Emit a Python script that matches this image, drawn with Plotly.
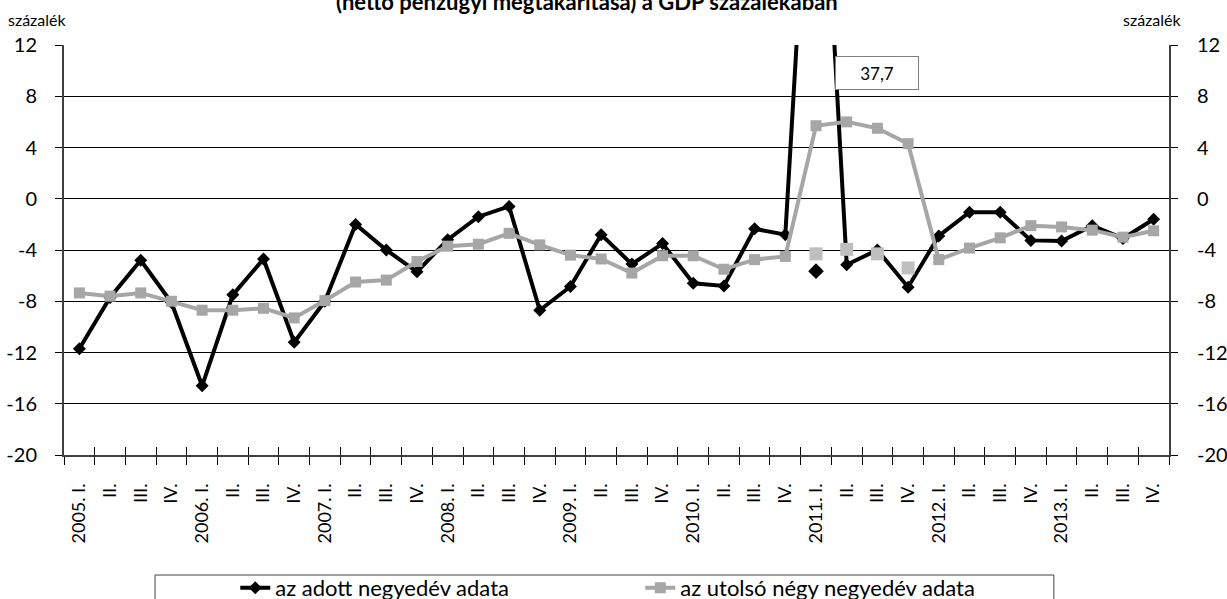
import plotly.graph_objects as go

years = ["2005", "2006", "2007", "2008", "2009", "2010", "2011", "2012", "2013"]
quarters = ["I.", "II.", "III.", "IV."]
categories = []
for y in years:
    for q in quarters:
        categories.append(f"{y}. {q}" if q == "I." else q)

# az adott negyedév adata (2011. I. value 37,7 runs off the chart)
quarterly = [-11.7, -7.7, -4.8, -8.1, -14.6, -7.5, -4.7, -11.2,
             -8.0, -2.0, -4.0, -5.7, -3.2, -1.4, -0.6, -8.7,
             -6.85, -2.8, -5.1, -3.5, -6.6, -6.8, -2.35, -2.8,
             37.7, -5.15, -4.0, -6.9, -2.9, -1.05, -1.05, -3.25,
             -3.3, -2.1, -3.1, -1.6]
# az utolsó négy negyedév adata
rolling = [-7.35, -7.6, -7.35, -8.0, -8.7, -8.7, -8.55, -9.3,
           -7.95, -6.5, -6.35, -4.9, -3.7, -3.55, -2.7, -3.6,
           -4.4, -4.7, -5.8, -4.45, -4.45, -5.5, -4.75, -4.5,
           5.7, 6.0, 5.5, 4.3, -4.75, -3.85, -3.05, -2.1,
           -2.2, -2.45, -3.0, -2.5]
# alternative 2011 values (marker only)
alt_idx = [24, 25, 26, 27]
alt_quarterly = [-5.65, None, None, None]
alt_rolling = [-4.3, -3.95, -4.3, -5.4]

spike_value = 37.7

yticks = list(range(-20, 13, 4))
ytick_labels = [str(v) for v in yticks]

FONT = "Lato"
xs = list(range(len(categories)))
fig = go.Figure()

fig.add_trace(go.Scatter(
    x=xs, y=quarterly, mode="lines+markers", name="az adott negyedév adata",
    line=dict(color="#000000", width=4),
    marker=dict(symbol="diamond", size=10, color="#000000"),
))
fig.add_trace(go.Scatter(
    x=xs, y=rolling, mode="lines+markers", name="az utolsó négy negyedév adata",
    line=dict(color="#A6A6A6", width=4),
    marker=dict(symbol="square", size=11, color="#A6A6A6"),
))
fig.add_trace(go.Scatter(
    x=alt_idx, y=alt_rolling, mode="markers", showlegend=False,
    marker=dict(symbol="square", size=13, color="#BFBFBF"),
    xaxis="x3", yaxis="y",
))
fig.add_trace(go.Scatter(
    x=alt_idx, y=alt_quarterly, mode="markers", showlegend=False,
    marker=dict(symbol="diamond", size=12, color="#000000"),
    xaxis="x2", yaxis="y2",
))

boundaries = [i - 0.5 for i in range(len(categories) + 1)]
xrange_ = [-0.5, len(categories) - 0.5]

fig.update_layout(
    width=1227, height=599,
    margin=dict(l=64, r=58, t=45, b=144, autoexpand=False),
    paper_bgcolor="white", plot_bgcolor="white",
    font=dict(family=FONT, color="#000000"),
    showlegend=True,
    legend=dict(orientation="h", x=0.155, y=-0.324, xanchor="left", yanchor="middle",
                font=dict(size=22, family=FONT), entrywidth=360,
                bgcolor="rgba(0,0,0,0)", borderwidth=0),
    xaxis=dict(range=xrange_, tickmode="array", tickvals=boundaries, showticklabels=False,
               ticks="outside", ticklen=8, tickcolor="#000", showgrid=False, zeroline=False,
               showline=True, linecolor="#404040", linewidth=2),
    xaxis2=dict(overlaying="x", matches="x", range=xrange_, tickmode="array", tickvals=xs,
                ticktext=categories, ticks="", tickangle=-90, showgrid=False, zeroline=False,
                showline=False, tickfont=dict(size=18, family=FONT), ticklabelstandoff=24,
                anchor="y2", side="bottom"),
    xaxis3=dict(overlaying="x", matches="x", range=xrange_, tickmode="array", tickvals=boundaries,
                showticklabels=False, ticks="inside", ticklen=8, tickcolor="#000",
                showgrid=False, zeroline=False, showline=False, anchor="y"),
    yaxis=dict(range=[-20, 12], tickmode="array", tickvals=yticks, ticktext=ytick_labels,
               ticks="outside", ticklen=7,
               tickcolor="#000", showgrid=True, gridcolor="#000", gridwidth=1, zeroline=False,
               showline=True, linecolor="#404040", linewidth=2, tickfont=dict(size=20, family=FONT),
               ticklabelstandoff=14),
    yaxis2=dict(overlaying="y", matches="y", side="right", range=[-20, 12], tickmode="array",
                tickvals=yticks, ticktext=ytick_labels, ticks="outside", ticklen=7, tickcolor="#000",
                showgrid=False, zeroline=False, showline=True, linecolor="#404040", linewidth=2,
                tickfont=dict(size=20, family=FONT), ticklabelstandoff=15, anchor="x2"),
)

# title (partially cut off at the top of the picture)
fig.add_annotation(text="<b>(nettó pénzügyi megtakarítása) a GDP százalékában</b>",
                   xref="paper", yref="paper", x=0.4737, y=1.0683, xanchor="center", yanchor="bottom",
                   showarrow=False, font=dict(size=22, family=FONT))
fig.add_annotation(text="százalék", xref="paper", yref="paper", x=-0.0236, y=1.0634,
                   xanchor="center", yanchor="middle",
                   showarrow=False, font=dict(size=16, family=FONT))
fig.add_annotation(text="százalék", xref="paper", yref="paper", x=0.9855, y=1.0634,
                   xanchor="center", yanchor="middle",
                   showarrow=False, font=dict(size=16, family=FONT))
# data label of the off-scale value
fig.add_annotation(text=f"{spike_value:.1f}".replace(".", ","), xref="paper", yref="paper",
                   x=0.7355, y=0.9317, xanchor="center", yanchor="middle", showarrow=False,
                   font=dict(size=17, family=FONT),
                   bordercolor="#7F7F7F", borderwidth=1, bgcolor="white", width=80, height=30)
# legend frame
fig.add_shape(type="rect", xref="paper", yref="paper", x0=0.0824, x1=0.8958, y0=-0.2927, y1=-0.40,
              line=dict(color="#404040", width=1), fillcolor="rgba(0,0,0,0)", layer="below")

fig.write_html("out.html", config={"displayModeBar": False},
               post_script="document.body.style.margin='0';document.body.style.overflow='hidden';")
